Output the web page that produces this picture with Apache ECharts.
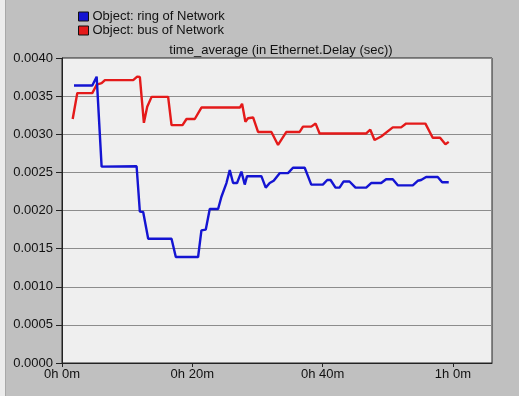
<!DOCTYPE html>
<html>
<head>
<meta charset="utf-8">
<script src="https://cdn.jsdelivr.net/npm/echarts@6/dist/echarts.min.js"></script>
<style>
  html, body { margin: 0; padding: 0; background: #c0c0c0; }
  #chart { width: 519px; height: 396px; }
</style>
</head>
<body>
<div id="chart"></div>
<script>
// Time axis in minutes, delay in seconds
const xTickMinutes = [0, 20, 40, 60];
const yTickValues = [0, 0.0005, 0.001, 0.0015, 0.002, 0.0025, 0.003, 0.0035, 0.004];

const ringTimes = [1.84, 4.65, 5.32, 5.57, 6.08, 11.45, 11.95, 12.46, 13.23, 16.81, 17.47, 20.89,
  21.4, 22.07, 22.68, 23.96, 24.47, 25.24, 25.75, 26.26, 26.87, 27.54, 28.05, 28.4, 30.6, 31.27,
  31.88, 32.49, 33.41, 34.69, 35.45, 37.25, 38.26, 40.04, 40.71, 41.22, 41.98, 42.6, 43.2, 44.13,
  45.05, 46.69, 47.45, 48.99, 49.75, 50.77, 51.54, 53.84, 54.6, 55.12, 55.89, 57.67, 58.35, 59.36];
const ringValues = [0.00364, 0.00364, 0.003755, 0.00375, 0.002575, 0.00258, 0.001985, 0.00198,
  0.00163, 0.00163, 0.00139, 0.00139, 0.00174, 0.00175, 0.00202, 0.00202, 0.00218, 0.00236,
  0.00253, 0.00236, 0.00236, 0.00251, 0.00234, 0.00245, 0.00245, 0.0023, 0.00236, 0.00239,
  0.00249, 0.00249, 0.00256, 0.00256, 0.00234, 0.00234, 0.0024, 0.0024, 0.0023, 0.0023, 0.00238,
  0.00238, 0.0023, 0.0023, 0.00236, 0.00236, 0.00241, 0.00241, 0.00233, 0.00233, 0.00239,
  0.0024, 0.00244, 0.00244, 0.00237, 0.00237];

const busTimes = [1.64, 2.35, 4.65, 5.32, 6.08, 6.59, 10.93, 11.54, 11.95, 12.57, 13.08, 13.75,
  16.29, 16.81, 18.5, 19.11, 20.38, 21.4, 27.3, 27.64, 28.15, 28.55, 29.33, 30.09, 32.14, 33.16,
  34.44, 36.48, 36.99, 38.26, 38.93, 39.54, 46.7, 47.32, 47.97, 48.99, 50.77, 52.05, 52.82, 55.78,
  56.9, 58.03, 58.85, 59.36];
const busValues = [0.0032, 0.00354, 0.00354, 0.00365, 0.00367, 0.00371, 0.00371, 0.003755,
  0.00375, 0.00315, 0.00336, 0.00349, 0.00349, 0.00312, 0.00312, 0.0032, 0.0032, 0.00335,
  0.00335, 0.0034, 0.003165, 0.00321, 0.00322, 0.00303, 0.00303, 0.00286, 0.00303, 0.00303,
  0.0031, 0.0031, 0.00314, 0.00301, 0.00301, 0.00306, 0.002925, 0.00297, 0.00309, 0.00309,
  0.00314, 0.00314, 0.002955, 0.002955, 0.00287, 0.0029];

const zip = (xs, ys) => xs.map((x, i) => [x, ys[i]]);

const fontFamily = '"Liberation Sans", Arial, sans-serif';

function minuteLabel(v) {
  if (xTickMinutes.indexOf(Math.round(v)) < 0 || Math.abs(v - Math.round(v)) > 1e-6) return '';
  const h = Math.floor(v / 60), m = Math.round(v % 60);
  return h + 'h ' + m + 'm';
}

const chart = echarts.init(document.getElementById('chart'), null, { renderer: 'canvas' });
chart.setOption({
  backgroundColor: '#c0c0c0',
  animation: false,
  graphic: [
    { type: 'rect', left: 0, top: 0, shape: { width: 5, height: 396 }, style: { fill: '#ececec' }, silent: true },
    { type: 'rect', left: 5, top: 0, shape: { width: 1, height: 396 }, style: { fill: '#a8a8a8' }, silent: true }
  ],
  title: {
    text: 'time_average (in Ethernet.Delay (sec))',
    left: 276, top: 39, textAlign: 'center',
    textStyle: { fontFamily, fontSize: 13, fontWeight: 'normal', color: '#111' }
  },
  legend: {
    orient: 'vertical', left: 73, top: 5, itemGap: 1,
    itemWidth: 10, itemHeight: 9, icon: 'rect',
    itemStyle: { borderColor: '#111', borderWidth: 1 },
    textStyle: { fontFamily, fontSize: 13, lineHeight: 13, color: '#111', padding: [0, 0, 0, -1] },
    data: ['Object: ring of Network', 'Object: bus of Network']
  },
  grid: {
    left: 62, right: 27, top: 58, bottom: 33, show: true,
    backgroundColor: '#efefef', borderColor: '#222', borderWidth: 1
  },
  xAxis: {
    type: 'value', min: 0, max: 66, interval: 20,
    axisLine: { show: true, lineStyle: { color: '#222', width: 1 } },
    axisTick: { show: true, length: 4, lineStyle: { color: '#222' } },
    axisLabel: { fontFamily, fontSize: 13, color: '#111', margin: 5, showMaxLabel: false, formatter: minuteLabel },
    splitLine: { show: false }
  },
  yAxis: {
    type: 'value', min: yTickValues[0], max: yTickValues[yTickValues.length - 1], interval: 0.0005,
    axisLine: { show: true, lineStyle: { color: '#222', width: 1 } },
    axisTick: { show: true, length: 6, lineStyle: { color: '#222' } },
    axisLabel: { fontFamily, fontSize: 13, color: '#111', margin: 9, formatter: v => v.toFixed(4) },
    splitLine: { show: true, lineStyle: { color: '#8c8c8c', width: 1 } }
  },
  series: [
    {
      name: 'Object: ring of Network', type: 'line', data: zip(ringTimes, ringValues),
      showSymbol: false, color: '#1414d2', lineStyle: { width: 2.4, color: '#1414d2' }, z: 3
    },
    {
      name: 'Object: bus of Network', type: 'line', data: zip(busTimes, busValues),
      showSymbol: false, color: '#e41a1a', lineStyle: { width: 2.4, color: '#e41a1a' }, z: 2
    }
  ]
});
</script>
</body>
</html>
